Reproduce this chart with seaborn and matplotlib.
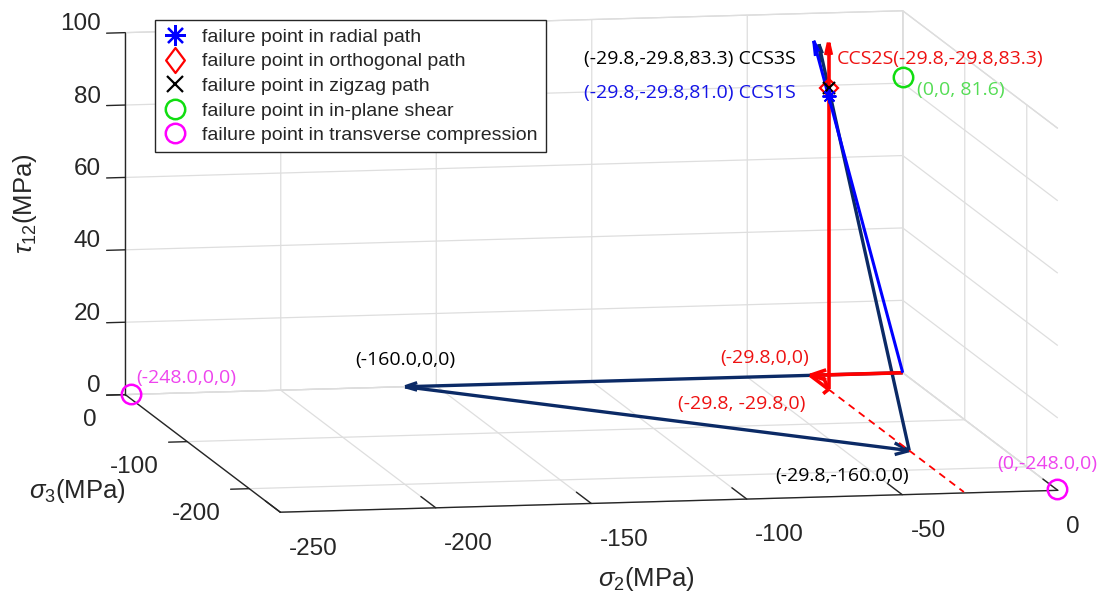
import matplotlib
matplotlib.use("Agg")
import matplotlib.pyplot as plt
from matplotlib.lines import Line2D
from matplotlib.path import Path
from matplotlib.transforms import offset_copy
import seaborn as sns

# ---------------- stress data (MPa): sigma2, sigma3, tau12 ----------------
# radial path: straight from the origin to failure
radial_s2 = [0.0, -29.8]
radial_s3 = [0.0, -29.8]
radial_t12 = [0.0, 81.0]

# orthogonal path: sigma2 first, then sigma3, then shear
orth_s2 = [0.0, -29.8, -29.8, -29.8]
orth_s3 = [0.0, 0.0, -29.8, -29.8]
orth_t12 = [0.0, 0.0, 0.0, 83.3]

# zigzag path
zig_s2 = [0.0, -160.0, -29.8, -29.8]
zig_s3 = [0.0, 0.0, -160.0, -29.8]
zig_t12 = [0.0, 0.0, 0.0, 83.3]

# the loading arrow of the last leg runs on past the failure point
final_leg_scale = [1.20, 1.15, 1.12]   # radial, orthogonal, zigzag

# dashed guide along sigma3 through the biaxial state
guide_s2 = [-29.8, -29.8]
guide_s3 = [-29.8, -248.0]
guide_t12 = [0.0, 0.0]

# uniaxial strengths
shear_s2, shear_s3, shear_t12 = [0.0], [0.0], [81.6]
comp_s2 = [-248.0, 0.0]
comp_s3 = [0.0, -248.0]
comp_t12 = [0.0, 0.0]

x_ticks = [-250, -200, -150, -100, -50, 0]
y_ticks = [-200, -100, 0]
z_ticks = [0, 20, 40, 60, 80, 100]

legend_labels = [
    "failure point in radial path",
    "failure point in orthogonal path",
    "failure point in zigzag path",
    "failure point in in-plane shear",
    "failure point in transverse compression",
]

# ---------------- style ----------------
sns.set_theme(style="white")
plt.rcParams["font.family"] = ["Liberation Sans", "DejaVu Sans"]
plt.rcParams["axes.unicode_minus"] = False
plt.rcParams["grid.color"] = "#dedede"
plt.rcParams["grid.linewidth"] = 0.9
plt.rcParams["grid.linestyle"] = "-"
plt.rcParams["axes3d.automargin"] = False
plt.rcParams["mathtext.fontset"] = "custom"
plt.rcParams["mathtext.rm"] = "Liberation Sans"
plt.rcParams["mathtext.it"] = "Liberation Sans:italic"

RED = "#ff0000"
BLUE = "#0000ff"
NAVY = "#0b2a66"
GREEN = "#11dd11"
MAGENTA = "#ff00ff"
INK = "#262626"

W, H = 1099, 599
fig = plt.figure(figsize=(W / 100, H / 100), dpi=100)
fig.patch.set_facecolor("white")

# square 3-D axes, larger than the figure so nothing is clipped
side = 1162.0
cx, cy = 591.5, 337.5
rect = [(cx - 0.5135 * side) / W, (cy - 0.5135 * side) / H, side / W, side / H]
ax = fig.add_axes(rect, projection="3d", computed_zorder=False)
ax.set_proj_type("ortho")
ax.view_init(elev=8.4, azim=-100.9)
ax.set_box_aspect((792, 820, 366))
ax.patch.set_facecolor("white")

ax.set_xlim(-250, 0)
ax.set_ylim(-250, 0)
ax.set_zlim(0, 100)
ax.set_xticks(x_ticks)
ax.set_yticks(y_ticks)
ax.set_zticks(z_ticks)
ax.grid(True)

for axis in (ax.xaxis, ax.yaxis, ax.zaxis):
    axis.set_pane_color((1, 1, 1, 1))
    axis.pane.set_edgecolor("#d6d6d6")
    axis.pane.set_linewidth(0.9)
    axis.line.set_color(INK)
    axis.line.set_linewidth(1.0)
    # tick marks stick out of the plot box
    axis._axinfo["tick"]["inward_factor"] = 0.3
    axis._axinfo["tick"]["outward_factor"] = 0.0
    axis._axinfo["tick"]["linewidth"] = {True: 1.0, False: 0.5}
    axis._axinfo["tick"]["color"] = INK
    axis.set_tick_params(labelsize=17.5, colors=INK)
    axis.set_rotate_label(False)

# sigma2 ticks run along the (foreshortened) depth axis, so they need more length
ax.xaxis._axinfo["tick"]["inward_factor"] = 0.0
ax.xaxis._axinfo["tick"]["outward_factor"] = 1.2

ax.xaxis.set_tick_params(pad=15)
ax.yaxis.set_tick_params(pad=8)
ax.zaxis.set_tick_params(pad=3.5)
for lab in ax.get_xticklabels():
    lab.set_horizontalalignment("left")
for lab in ax.get_yticklabels():
    lab.set_horizontalalignment("right")
for lab in ax.get_zticklabels():
    lab.set_horizontalalignment("right")
    lab.set_verticalalignment("baseline")

ax.set_xlabel(r"$\sigma_2$(MPa)", fontsize=18.5, labelpad=50, rotation=0)
ax.set_ylabel(r"$\sigma_3$(MPa)", fontsize=18.5, labelpad=22, rotation=0)
ax.set_zlabel(r"$\tau_{12}$(MPa)", fontsize=18.5, labelpad=26, rotation=90)
ax.xaxis._axinfo["label"]["ha"] = "right"
ax.yaxis._axinfo["label"]["ha"] = "right"


# ---------------- paths ----------------
def draw_path(s2, s3, t12, color, lw, heads, last_scale, zorder):
    n = len(s2) - 1
    for i in range(n):
        k = last_scale if i == n - 1 else 1.0
        u = (s2[i + 1] - s2[i]) * k
        v = (s3[i + 1] - s3[i]) * k
        w = (t12[i + 1] - t12[i]) * k
        ax.quiver(s2[i], s3[i], t12[i], u, v, w, color=color, linewidth=lw,
                  arrow_length_ratio=heads[i], zorder=zorder)


draw_path(zig_s2, zig_s3, zig_t12, NAVY, 2.4, [0.025, 0.03, 0.034],
          final_leg_scale[2], 3)
ax.plot(guide_s2, guide_s3, guide_t12, color=RED, lw=1.3, ls=(0, (4, 3)), zorder=3)
draw_path(orth_s2, orth_s3, orth_t12, RED, 2.6, [0.18, 0.3, 0.037],
          final_leg_scale[1], 4)
draw_path(radial_s2, radial_s3, radial_t12, BLUE, 2.2, [0.04],
          final_leg_scale[0], 5)

# failure markers
ax.plot([orth_s2[-1]], [orth_s3[-1]], [orth_t12[-1]], ls="none", marker="D",
        ms=9, mfc="none", mec=RED, mew=1.6, zorder=6)
ax.plot([zig_s2[-1]], [zig_s3[-1]], [zig_t12[-1]], ls="none", marker="x",
        ms=9, mec="black", mew=1.6, zorder=7)
ax.plot([radial_s2[-1]], [radial_s3[-1]], [radial_t12[-1]], ls="none",
        marker=(8, 2, 0), ms=10, color=BLUE, mew=1.4, zorder=8)
ax.plot(shear_s2, shear_s3, shear_t12, ls="none", marker="o", ms=14,
        mfc="none", mec=GREEN, mew=1.8, zorder=6)
ax.plot(comp_s2, comp_s3, comp_t12, ls="none", marker="o", ms=14,
        mfc="none", mec=MAGENTA, mew=1.8, zorder=6)


# ---------------- point annotations ----------------
def note(x, y, z, s, dx, dy, color, ha):
    tr = offset_copy(ax.transData, fig=fig, x=dx, y=dy, units="dots")
    ax.text(x, y, z, s, transform=tr, color=color, ha=ha, va="center",
            fontsize=14, family=["Open Sans", "DejaVu Sans"], zorder=10)


note(zig_s2[-1], zig_s3[-1], zig_t12[-1], "(-29.8,-29.8,83.3) CCS3S",
     -33, 29, "black", "right")
note(radial_s2[-1], radial_s3[-1], radial_t12[-1], "(-29.8,-29.8,81.0) CCS1S",
     -33, 3, "#1414e6", "right")
note(orth_s2[-1], orth_s3[-1], orth_t12[-1], "CCS2S(-29.8,-29.8,83.3)",
     8, 29, "#ee1111", "left")
note(shear_s2[0], shear_s3[0], shear_t12[0], "(0,0, 81.6)",
     14, -13, "#55dd55", "left")
note(comp_s2[0], comp_s3[0], comp_t12[0], "(-248.0,0,0)",
     5, 16, "#ee44ee", "left")
note(comp_s2[1], comp_s3[1], comp_t12[1], "(0,-248.0,0)",
     -9, 25, "#ee44ee", "center")
note(zig_s2[1], zig_s3[1], zig_t12[1], "(-160.0,0,0)",
     0, 27, "black", "center")
note(orth_s2[1], orth_s3[1], orth_t12[1], "(-29.8,0,0)",
     -1, 17, "#ee1111", "right")
note(orth_s2[2], orth_s3[2], orth_t12[2], "(-29.8, -29.8,0)",
     -23, -15, "#ee1111", "right")
note(zig_s2[2], zig_s3[2], zig_t12[2], "(-29.8,-160.0,0)",
     0, -25, "black", "right")

# ---------------- legend ----------------
diamond = Path([(0, 1), (0.75, 0), (0, -1), (-0.75, 0), (0, 1)], closed=True)
handles = [
    Line2D([], [], ls="none", marker=(8, 2, 0), ms=15, color=BLUE, mew=1.6),
    Line2D([], [], ls="none", marker=diamond, ms=18, mfc="none", mec=RED, mew=1.6),
    Line2D([], [], ls="none", marker="x", ms=11, mec="black", mew=1.6),
    Line2D([], [], ls="none", marker="o", ms=14, mfc="none", mec=GREEN, mew=1.8),
    Line2D([], [], ls="none", marker="o", ms=14, mfc="none", mec=MAGENTA, mew=1.8),
]
leg = fig.legend(handles, legend_labels, loc="upper left",
                 bbox_to_anchor=(155 / W, 1 - 20 / H),
                 bbox_transform=fig.transFigure, frameon=True, fancybox=False,
                 edgecolor=INK, framealpha=1, borderaxespad=0,
                 borderpad=0.42, handlelength=1.2, handletextpad=0.8,
                 labelspacing=0.36, prop={"family": "Liberation Sans", "size": 14})
leg.get_frame().set_linewidth(1.0)

fig.savefig("out.png", dpi=100, facecolor="white")
